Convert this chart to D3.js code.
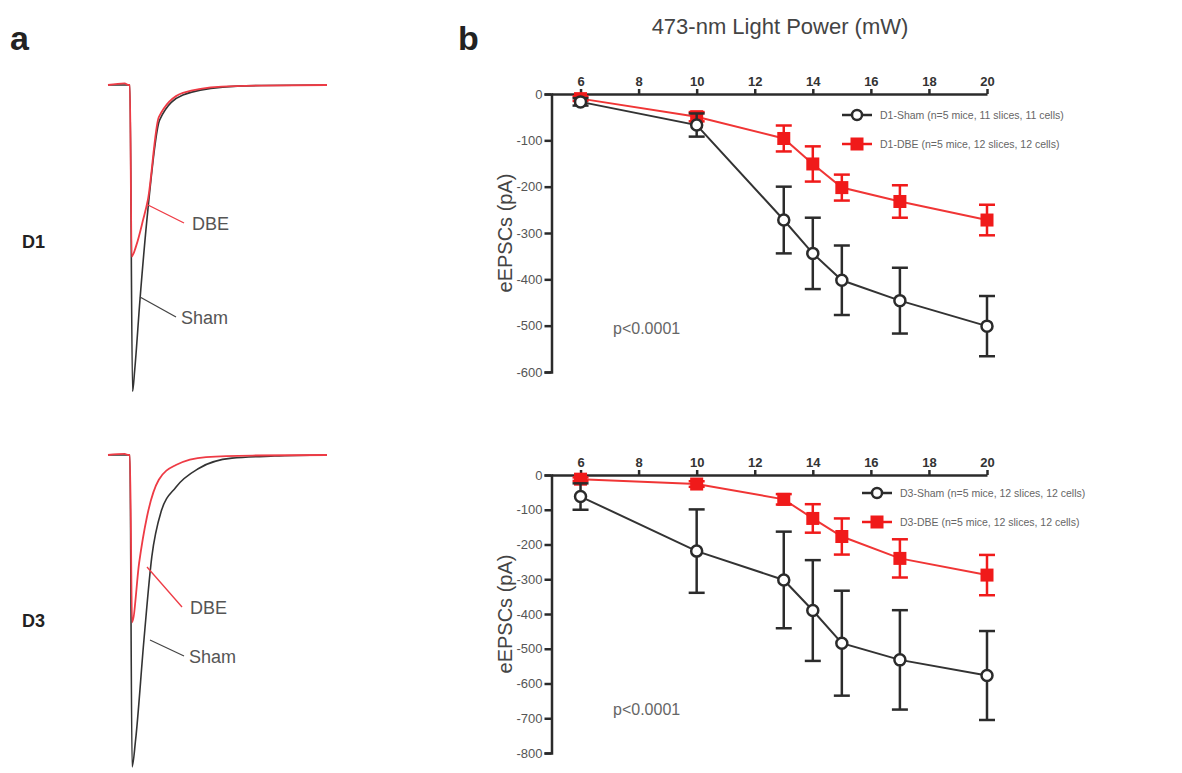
<!DOCTYPE html>
<html>
<head>
<meta charset="utf-8">
<script src="https://cdn.jsdelivr.net/npm/d3@7"></script>
<style>
  body { margin: 0; background: #fff; }
  svg { font-family: "Liberation Sans", Arial, sans-serif; }
</style>
</head>
<body>
<svg id="fig" width="1182" height="773"></svg>
<script>
// ---- panel b data (mean, SEM) ----
const powers = [6, 10, 13, 14, 15, 17, 20];
const xTicks = [6, 8, 10, 12, 14, 16, 18, 20];

const d1ShamMean = [-17, -67, -272, -344, -402, -446, -501];
const d1ShamSem  = [8, 25, 72, 77, 75, 71, 65];
const d1DbeMean  = [-10, -49, -96, -151, -202, -232, -272];
const d1DbeSem   = [5, 10, 28, 38, 28, 35, 33];

const d3ShamMean = [-62, -219, -302, -390, -484, -532, -577];
const d3ShamSem  = [38, 120, 139, 145, 151, 143, 128];
const d3DbeMean  = [-12, -26, -70, -125, -177, -240, -288];
const d3DbeSem   = [5, 8, 15, 41, 52, 55, 58];

const d1Ticks = [0, -100, -200, -300, -400, -500, -600];
const d3Ticks = [0, -100, -200, -300, -400, -500, -600, -700, -800];

// ---- panel a traces: [time ms, current pA] ----
const d1ShamTrace = [[-5,0],[-0.3,0],[0,0],[0.6,-581],[1.1,-540],[2.3,-407],[4.1,-237],[6.8,-66],[12.1,-19],[21.2,-4],[30,-1],[45,0]];
const d1DbeTrace  = [[-5,0],[-1.2,3],[-0.3,0],[0,0],[0.4,-325],[1.5,-303],[3.0,-256],[4.1,-218],[6.6,-61],[12.1,-15],[21,-3],[30,-1],[45,0]];
const d3ShamTrace = [[-5,0],[-0.3,0],[0,0],[0.5,-591],[1.3,-540],[3.2,-351],[5.0,-193],[7.1,-108],[10.5,-61],[15.8,-25],[23.3,-6],[33,-2],[45,0]];
const d3DbeTrace  = [[-5,0],[-1.2,2],[-0.3,0],[0,0],[0.5,-317],[2.1,-205],[3.9,-117],[6.6,-47],[10.5,-19],[17.4,-4],[28,-1],[45,0]];

const black = "#2b2b2b";
const red = "#f01a1a";
const redTrace = "#ee3b45";

const svg = d3.select("#fig");

// panel letters
svg.append("text").attr("x", 10).attr("y", 50).text("a")
  .style("font-size", "34px").style("font-weight", "bold").style("fill", "#222");
svg.append("text").attr("x", 458).attr("y", 50).text("b")
  .style("font-size", "34px").style("font-weight", "bold").style("fill", "#222");

// ---------- panel a ----------
const tScale = d3.scaleLinear().domain([-5, 45]).range([108, 327]);

function drawTraces(base, sham, dbe, label, lab) {
  const iScale = d3.scaleLinear().domain([0, -600]).range([base, base + 316.6]);
  const line = d3.line()
    .x(d => tScale(d[0]))
    .y(d => iScale(d[1]))
    .curve(d3.curveMonotoneX);
  const g = svg.append("g");
  g.append("path").datum(sham).attr("d", line)
    .style("fill", "none").style("stroke", "#333").style("stroke-width", 1.6);
  g.append("path").datum(dbe).attr("d", line)
    .style("fill", "none").style("stroke", redTrace).style("stroke-width", 1.8);

  // annotations
  g.append("line").attr("x1", lab.dbe[0]).attr("y1", lab.dbe[1]).attr("x2", lab.dbe[2]).attr("y2", lab.dbe[3])
    .style("stroke", redTrace).style("stroke-width", 1.3);
  g.append("text").attr("x", lab.dbe[2] + 8).attr("y", lab.dbe[3] + 7).text("DBE")
    .style("font-size", "18px").style("fill", "#555");
  g.append("line").attr("x1", lab.sham[0]).attr("y1", lab.sham[1]).attr("x2", lab.sham[2]).attr("y2", lab.sham[3])
    .style("stroke", "#444").style("stroke-width", 1.3);
  g.append("text").attr("x", lab.sham[2] + 5).attr("y", lab.sham[3] + 7).text("Sham")
    .style("font-size", "18px").style("fill", "#555");

  g.append("text").attr("x", 22).attr("y", lab.dy).text(label)
    .style("font-size", "18px").style("font-weight", "bold").style("fill", "#222");
}

drawTraces(85, d1ShamTrace, d1DbeTrace, "D1", {dbe: [148, 205, 184, 223], sham: [140, 297, 176, 317], dy: 248});
drawTraces(455, d3ShamTrace, d3DbeTrace, "D3", {dbe: [147, 567, 182, 607], sham: [150, 640, 184, 656], dy: 627});

// ---------- panel b ----------
svg.append("text").attr("x", 780).attr("y", 34).attr("text-anchor", "middle")
  .text("473-nm Light Power (mW)")
  .style("font-size", "22px").style("fill", "#444");

const x = d3.scaleLinear().domain([5, 20]).range([551.5, 987]);

function drawPanel(top, bottom, yMin, ticks, sham, dbe, legendY, legendX, tag) {
  const y = d3.scaleLinear().domain([yMin, 0]).range([bottom, top]);
  const g = svg.append("g");

  // y axis
  const yAxis = g.append("g").attr("transform", `translate(${x(5)},0)`)
    .call(d3.axisLeft(y).tickValues(ticks).tickSize(7).tickFormat(d => String(d)));
  yAxis.select(".domain").style("stroke", black).style("stroke-width", 2.5);
  yAxis.selectAll(".tick line").style("stroke", black).style("stroke-width", 2.5);
  yAxis.selectAll(".tick text").style("font-size", "13px").style("fill", "#555")
    .style("font-family", "Liberation Sans, Arial, sans-serif").attr("x", -9);

  // x axis at y = 0
  const xAxis = g.append("g").attr("transform", `translate(0,${y(0)})`)
    .call(d3.axisTop(x).tickValues(xTicks).tickSize(5).tickSizeOuter(0));
  xAxis.select(".domain").style("stroke", black).style("stroke-width", 2.5);
  xAxis.selectAll(".tick line").style("stroke", black).style("stroke-width", 2.5);
  xAxis.selectAll(".tick text").style("font-size", "13px").style("fill", "#333")
    .style("font-weight", "bold").style("font-family", "Liberation Sans, Arial, sans-serif").attr("y", -8);

  // y label
  g.append("text")
    .attr("transform", `translate(512,${(top + bottom) / 2}) rotate(-90)`)
    .attr("text-anchor", "middle")
    .text("eEPSCs (pA)")
    .style("font-size", "20px").style("fill", "#444");

  // p value
  g.append("text").attr("x", 613).attr("y", bottom - 38).text("p<0.0001")
    .style("font-size", "16px").style("fill", "#666");

  const line = d3.line().x(d => x(d.p)).y(d => y(d.m));

  function series(data, color, lineColor, shape) {
    const s = g.append("g");
    s.append("path").datum(data).attr("d", line)
      .style("fill", "none").style("stroke", lineColor).style("stroke-width", 2);
    const eb = s.selectAll(".eb").data(data).join("g");
    eb.append("line")
      .attr("x1", d => x(d.p)).attr("x2", d => x(d.p))
      .attr("y1", d => y(d.m - d.e)).attr("y2", d => y(d.m + d.e))
      .style("stroke", color).style("stroke-width", 2.5);
    [-1, 1].forEach(k => {
      eb.append("line")
        .attr("x1", d => x(d.p) - 8).attr("x2", d => x(d.p) + 8)
        .attr("y1", d => y(d.m + k * d.e)).attr("y2", d => y(d.m + k * d.e))
        .style("stroke", color).style("stroke-width", 2.5);
    });
    if (shape === "circle") {
      s.selectAll(".pt").data(data).join("circle")
        .attr("cx", d => x(d.p)).attr("cy", d => y(d.m)).attr("r", 5.5)
        .style("fill", "#fff").style("stroke", color).style("stroke-width", 2.5);
    } else {
      s.selectAll(".pt").data(data).join("rect")
        .attr("x", d => x(d.p) - 6.5).attr("y", d => y(d.m) - 6.5)
        .attr("width", 13).attr("height", 13)
        .style("fill", color);
    }
  }

  series(dbe, red, "#f03535", "square");
  series(sham, black, "#333", "circle");

  // legend
  const lg = g.append("g").attr("transform", `translate(${legendX},${legendY})`);
  const items = [
    {label: tag[0], color: black, shape: "circle"},
    {label: tag[1], color: red, shape: "square"}
  ];
  items.forEach((it, i) => {
    const yy = i * 29;
    lg.append("line").attr("x1", 0).attr("x2", 30).attr("y1", yy).attr("y2", yy)
      .style("stroke", it.color).style("stroke-width", 2.5);
    if (it.shape === "circle") {
      lg.append("circle").attr("cx", 15).attr("cy", yy).attr("r", 5)
        .style("fill", "#fff").style("stroke", it.color).style("stroke-width", 2.5);
    } else {
      lg.append("rect").attr("x", 8.5).attr("y", yy - 6.5).attr("width", 13).attr("height", 13)
        .style("fill", it.color);
    }
    lg.append("text").attr("x", 38).attr("y", yy + 4).text(it.label)
      .style("font-size", "10.5px").style("fill", "#666");
  });
}

function zipSeries(mean, sem) {
  return powers.map((p, i) => ({p: p, m: mean[i], e: sem[i]}));
}

drawPanel(94, 372, -600, d1Ticks,
  zipSeries(d1ShamMean, d1ShamSem), zipSeries(d1DbeMean, d1DbeSem),
  115, 842, ["D1-Sham (n=5 mice, 11 slices, 11 cells)", "D1-DBE (n=5 mice, 12 slices, 12 cells)"]);

drawPanel(475, 753, -800, d3Ticks,
  zipSeries(d3ShamMean, d3ShamSem), zipSeries(d3DbeMean, d3DbeSem),
  493, 862, ["D3-Sham (n=5 mice, 12 slices, 12 cells)", "D3-DBE (n=5 mice, 12 slices, 12 cells)"]);
</script>
</body>
</html>
